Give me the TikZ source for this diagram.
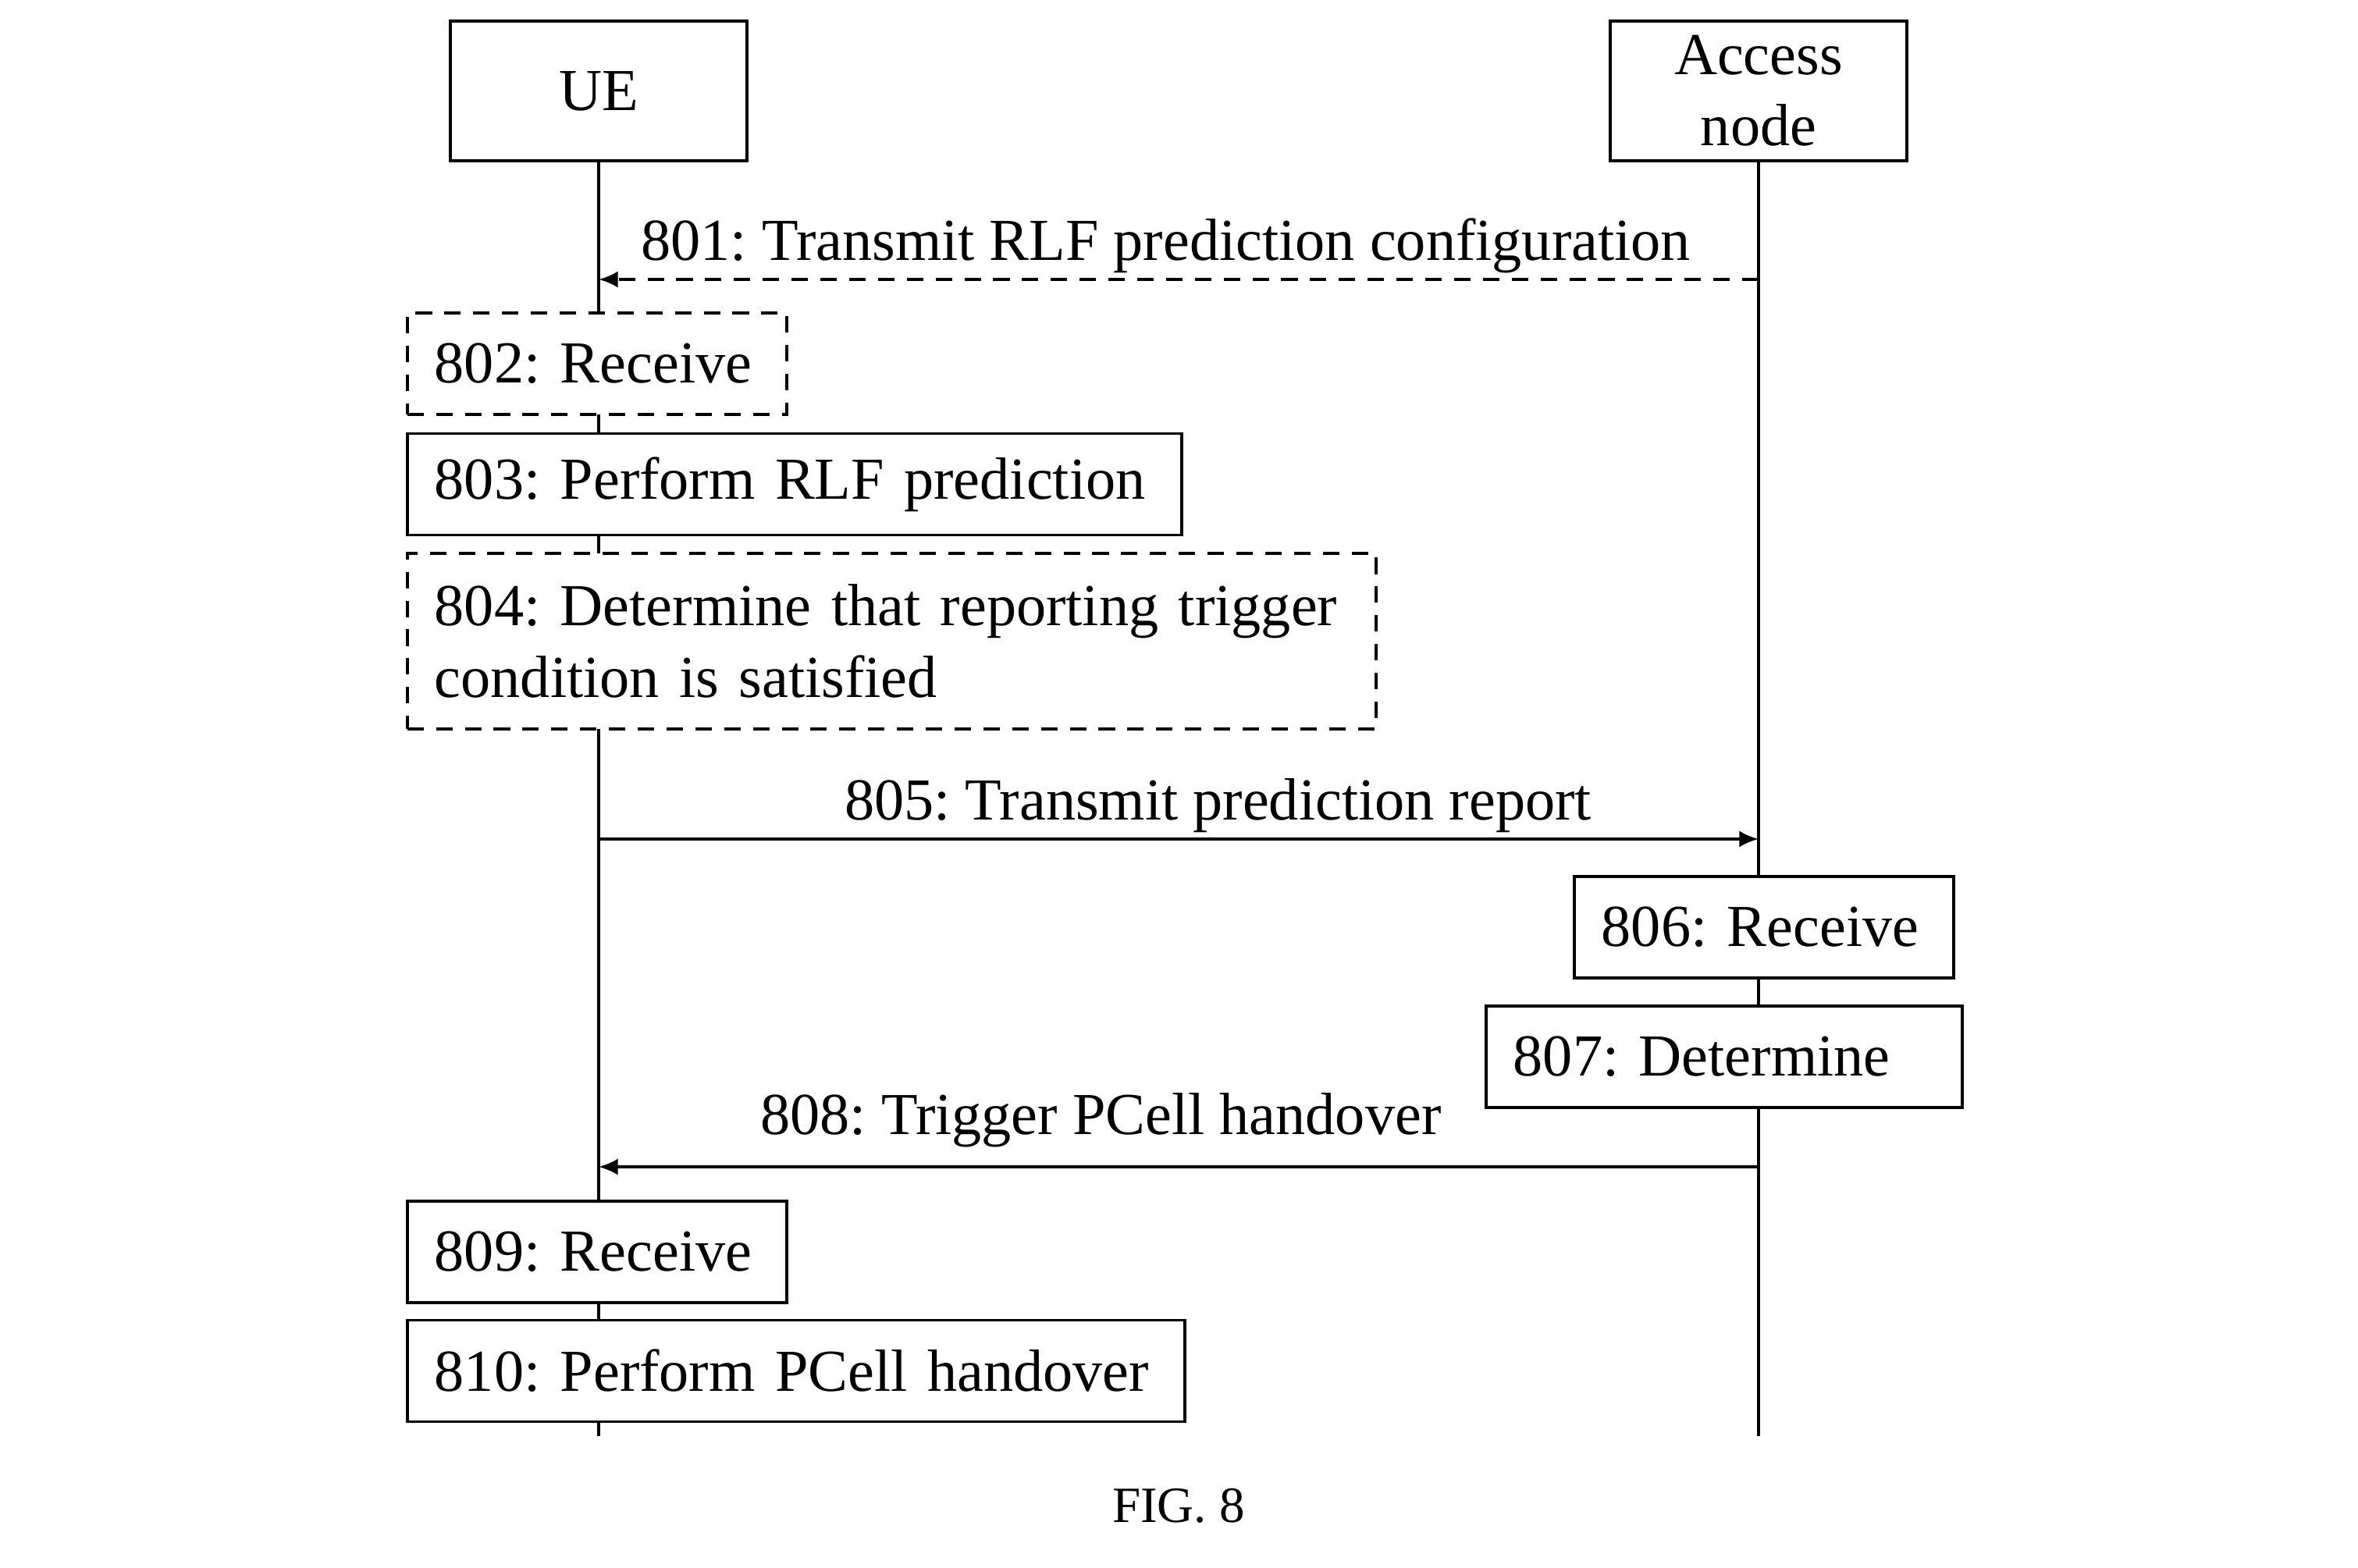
\documentclass[tikz,border=0pt]{standalone}
\usepackage{fontspec}
\setmainfont{Liberation Serif}
\usetikzlibrary{positioning, arrows.meta}
\newcommand{\stepfont}{\fontsize{21.7pt}{26pt}\selectfont}
\tikzset{
 entity/.style = {
    rectangle, draw, line width=1pt,
    minimum width=3.8cm,
    minimum height=1.79cm,
    align=center, font=\stepfont},
 block/.style = {
    rectangle, draw, fill=white, line width=1pt,
    inner xsep=0.35cm, inner ysep=2pt, align=left,
    minimum height=1.3cm, font=\stepfont},
 opt block/.style = {
    block, dash pattern=on 6pt off 4.5pt},
 life/.style = {
    draw, line width=1.2pt},
 line/.style = {
    draw, line width=1pt, -{Latex[length=7pt, width=6pt]}},
 opt line/.style = {
    line, dash pattern=on 6pt off 4.5pt},
 msg/.style = {
    anchor=base, yshift=0.25cm, font=\stepfont},
}
\begin{document}
\frenchspacing
\begin{tikzpicture}
\useasboundingbox (0,0) rectangle (30.21,-20.09);

    % Entities and life lines
    \node [entity] (ue) at (7.67,-1.165)  {UE};
    \node [entity] (an) at (22.53,-1.165) {Access\\node};
    \coordinate (bottom) at (0,-18.40);
    \draw[life] (ue) -- (ue |- bottom);
    \draw[life] (an) -- (an |- bottom);

    % Steps at the UE
    \node [opt block, text width=4.16cm, anchor=north west] (s802) at (5.20,-3.99) {802: Receive};
    \node [block, text width=9.22cm, below=0.21cm of s802.south west, anchor=north west] (s803) {803: Perform RLF prediction};
    \node [opt block, text width=11.71cm, minimum height=2.25cm, below=0.2cm of s803.south west, anchor=north west] (s804)
        {804: Determine that reporting trigger\\condition is satisfied};
    \node [block, text width=4.16cm, anchor=north west] (s809) at (5.20,-15.37) {809: Receive};
    \node [block, text width=9.26cm, below=0.19cm of s809.south west, anchor=north west] (s810) {810: Perform PCell handover};

    % Steps at the access node
    \node [block, text width=4.16cm, anchor=north west] (s806) at (20.15,-11.21) {806: Receive};
    \node [block, text width=5.40cm, anchor=north west] (s807) at (19.02,-12.87) {807: Determine};

    % Messages
    \coordinate (m801) at (0,-3.58);
    \coordinate (m805) at (0,-10.75);
    \coordinate (m808) at (0,-14.95);
    \draw[opt line] (an |- m801) -- node[msg, pos=0.511] {801: Transmit RLF prediction configuration} (ue |- m801);
    \draw[line] (ue |- m805) -- node[msg, pos=0.534] {805: Transmit prediction report} (an |- m805);
    \draw[line] (an |- m808) -- node[msg, pos=0.567, yshift=0.17cm] {808: Trigger PCell handover} (ue |- m808);

    \node [font=\fontsize{18.5pt}{22pt}\selectfont] (fig) at (15.10,-19.29) {FIG. 8};
\end{tikzpicture}
\end{document}
